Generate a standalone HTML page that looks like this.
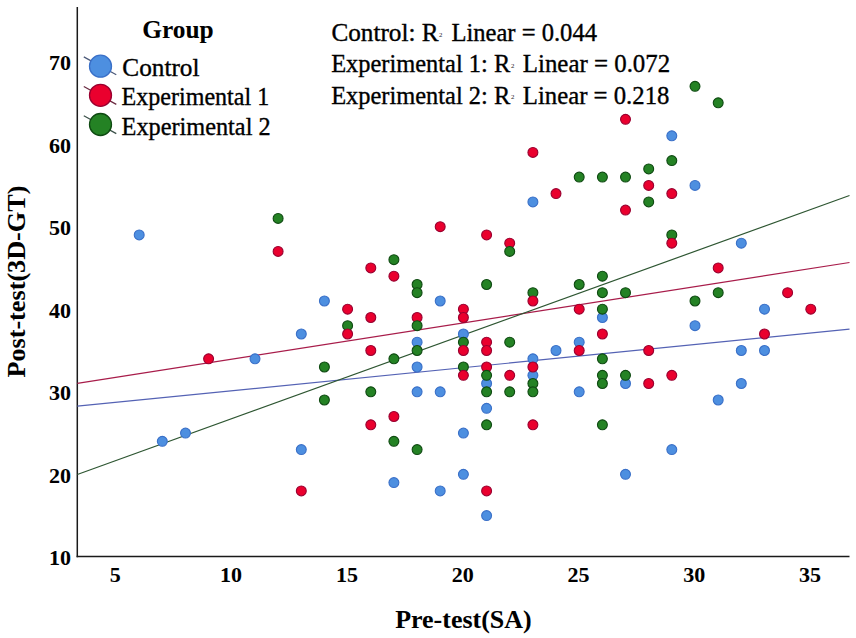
<!DOCTYPE html>
<html><head><meta charset="utf-8"><style>
html,body{margin:0;padding:0;background:#fff;width:856px;height:638px;overflow:hidden}
svg{display:block}
text{font-family:"Liberation Serif",serif;fill:#000;stroke:#000;stroke-width:0.35px}
text[font-weight="bold"],g[font-weight="bold"] text{stroke-width:0.05px}
.sup text{stroke-width:0;fill:#222}
</style></head><body>
<svg width="856" height="638" viewBox="0 0 856 638">
<rect x="0" y="0" width="856" height="638" fill="#fff"/>
<line x1="77.3" y1="7" x2="77.3" y2="557.2" stroke="#1a1a1a" stroke-width="1.5"/>
<line x1="76.6" y1="556.5" x2="849.5" y2="556.5" stroke="#1a1a1a" stroke-width="1.5"/>
<g id="ylab" font-weight="bold" font-size="22" text-anchor="end">
<text x="71" y="69.9">70</text>
<text x="71" y="152.5">60</text>
<text x="71" y="235.1">50</text>
<text x="71" y="317.6">40</text>
<text x="71" y="400.2">30</text>
<text x="71" y="482.7">20</text>
<text x="71" y="565.3">10</text>
</g>
<g id="xlab" font-weight="bold" font-size="22" text-anchor="middle">
<text x="115.3" y="582.2">5</text>
<text x="231.1" y="582.2">10</text>
<text x="346.9" y="582.2">15</text>
<text x="462.7" y="582.2">20</text>
<text x="578.5" y="582.2">25</text>
<text x="694.3" y="582.2">30</text>
<text x="810.1" y="582.2">35</text>
</g>
<text id="xt" x="395.20" y="628.00" font-size="24.6" font-weight="bold" textLength="136.40" lengthAdjust="spacingAndGlyphs">Pre-test(SA)</text>
<text id="yt" transform="translate(24.80,377.60) rotate(-90)" x="0" y="0" font-size="24.6" font-weight="bold" textLength="192.00" lengthAdjust="spacingAndGlyphs">Post-test(3D-GT)</text>
<g id="fits">
<line x1="77.3" y1="406.2" x2="849.5" y2="329.1" stroke="#5462b4" stroke-width="1.2"/>
<line x1="77.3" y1="383.3" x2="849.5" y2="262.5" stroke="#a81c4a" stroke-width="1.2"/>
<line x1="77.3" y1="474.5" x2="849.5" y2="195.5" stroke="#2e5632" stroke-width="1.2"/>
</g>
<g id="pts">
<circle cx="671.8" cy="135.8" r="4.95" fill="#4d8fe0" stroke="#3a70c8" stroke-width="1.1"/>
<circle cx="695.0" cy="185.4" r="4.95" fill="#4d8fe0" stroke="#3a70c8" stroke-width="1.1"/>
<circle cx="532.9" cy="201.9" r="4.95" fill="#4d8fe0" stroke="#3a70c8" stroke-width="1.1"/>
<circle cx="139.2" cy="234.9" r="4.95" fill="#4d8fe0" stroke="#3a70c8" stroke-width="1.1"/>
<circle cx="741.3" cy="243.2" r="4.95" fill="#4d8fe0" stroke="#3a70c8" stroke-width="1.1"/>
<circle cx="324.4" cy="301.0" r="4.95" fill="#4d8fe0" stroke="#3a70c8" stroke-width="1.1"/>
<circle cx="440.2" cy="301.0" r="4.95" fill="#4d8fe0" stroke="#3a70c8" stroke-width="1.1"/>
<circle cx="764.5" cy="309.2" r="4.95" fill="#4d8fe0" stroke="#3a70c8" stroke-width="1.1"/>
<circle cx="602.4" cy="317.5" r="4.95" fill="#4d8fe0" stroke="#3a70c8" stroke-width="1.1"/>
<circle cx="695.0" cy="325.7" r="4.95" fill="#4d8fe0" stroke="#3a70c8" stroke-width="1.1"/>
<circle cx="301.3" cy="334.0" r="4.95" fill="#4d8fe0" stroke="#3a70c8" stroke-width="1.1"/>
<circle cx="463.4" cy="334.0" r="4.95" fill="#4d8fe0" stroke="#3a70c8" stroke-width="1.1"/>
<circle cx="417.1" cy="342.2" r="4.95" fill="#4d8fe0" stroke="#3a70c8" stroke-width="1.1"/>
<circle cx="579.2" cy="342.2" r="4.95" fill="#4d8fe0" stroke="#3a70c8" stroke-width="1.1"/>
<circle cx="556.0" cy="350.5" r="4.95" fill="#4d8fe0" stroke="#3a70c8" stroke-width="1.1"/>
<circle cx="741.3" cy="350.5" r="4.95" fill="#4d8fe0" stroke="#3a70c8" stroke-width="1.1"/>
<circle cx="764.5" cy="350.5" r="4.95" fill="#4d8fe0" stroke="#3a70c8" stroke-width="1.1"/>
<circle cx="255.0" cy="358.8" r="4.95" fill="#4d8fe0" stroke="#3a70c8" stroke-width="1.1"/>
<circle cx="532.9" cy="358.8" r="4.95" fill="#4d8fe0" stroke="#3a70c8" stroke-width="1.1"/>
<circle cx="417.1" cy="367.0" r="4.95" fill="#4d8fe0" stroke="#3a70c8" stroke-width="1.1"/>
<circle cx="532.9" cy="375.3" r="4.95" fill="#4d8fe0" stroke="#3a70c8" stroke-width="1.1"/>
<circle cx="486.6" cy="383.5" r="4.95" fill="#4d8fe0" stroke="#3a70c8" stroke-width="1.1"/>
<circle cx="625.5" cy="383.5" r="4.95" fill="#4d8fe0" stroke="#3a70c8" stroke-width="1.1"/>
<circle cx="741.3" cy="383.5" r="4.95" fill="#4d8fe0" stroke="#3a70c8" stroke-width="1.1"/>
<circle cx="417.1" cy="391.8" r="4.95" fill="#4d8fe0" stroke="#3a70c8" stroke-width="1.1"/>
<circle cx="440.2" cy="391.8" r="4.95" fill="#4d8fe0" stroke="#3a70c8" stroke-width="1.1"/>
<circle cx="579.2" cy="391.8" r="4.95" fill="#4d8fe0" stroke="#3a70c8" stroke-width="1.1"/>
<circle cx="718.2" cy="400.0" r="4.95" fill="#4d8fe0" stroke="#3a70c8" stroke-width="1.1"/>
<circle cx="486.6" cy="408.3" r="4.95" fill="#4d8fe0" stroke="#3a70c8" stroke-width="1.1"/>
<circle cx="185.5" cy="433.1" r="4.95" fill="#4d8fe0" stroke="#3a70c8" stroke-width="1.1"/>
<circle cx="463.4" cy="433.1" r="4.95" fill="#4d8fe0" stroke="#3a70c8" stroke-width="1.1"/>
<circle cx="162.3" cy="441.3" r="4.95" fill="#4d8fe0" stroke="#3a70c8" stroke-width="1.1"/>
<circle cx="301.3" cy="449.6" r="4.95" fill="#4d8fe0" stroke="#3a70c8" stroke-width="1.1"/>
<circle cx="671.8" cy="449.6" r="4.95" fill="#4d8fe0" stroke="#3a70c8" stroke-width="1.1"/>
<circle cx="463.4" cy="474.3" r="4.95" fill="#4d8fe0" stroke="#3a70c8" stroke-width="1.1"/>
<circle cx="625.5" cy="474.3" r="4.95" fill="#4d8fe0" stroke="#3a70c8" stroke-width="1.1"/>
<circle cx="393.9" cy="482.6" r="4.95" fill="#4d8fe0" stroke="#3a70c8" stroke-width="1.1"/>
<circle cx="440.2" cy="490.9" r="4.95" fill="#4d8fe0" stroke="#3a70c8" stroke-width="1.1"/>
<circle cx="486.6" cy="515.6" r="4.95" fill="#4d8fe0" stroke="#3a70c8" stroke-width="1.1"/>
<circle cx="695.0" cy="86.3" r="4.95" fill="#248224" stroke="#0f4a12" stroke-width="1.1"/>
<circle cx="718.2" cy="102.8" r="4.95" fill="#248224" stroke="#0f4a12" stroke-width="1.1"/>
<circle cx="625.5" cy="119.3" r="4.95" fill="#ea002e" stroke="#9a0030" stroke-width="1.1"/>
<circle cx="532.9" cy="152.4" r="4.95" fill="#ea002e" stroke="#9a0030" stroke-width="1.1"/>
<circle cx="671.8" cy="160.6" r="4.95" fill="#248224" stroke="#0f4a12" stroke-width="1.1"/>
<circle cx="648.7" cy="168.9" r="4.95" fill="#248224" stroke="#0f4a12" stroke-width="1.1"/>
<circle cx="579.2" cy="177.1" r="4.95" fill="#248224" stroke="#0f4a12" stroke-width="1.1"/>
<circle cx="602.4" cy="177.1" r="4.95" fill="#248224" stroke="#0f4a12" stroke-width="1.1"/>
<circle cx="625.5" cy="177.1" r="4.95" fill="#248224" stroke="#0f4a12" stroke-width="1.1"/>
<circle cx="648.7" cy="185.4" r="4.95" fill="#ea002e" stroke="#9a0030" stroke-width="1.1"/>
<circle cx="556.0" cy="193.6" r="4.95" fill="#ea002e" stroke="#9a0030" stroke-width="1.1"/>
<circle cx="671.8" cy="193.6" r="4.95" fill="#ea002e" stroke="#9a0030" stroke-width="1.1"/>
<circle cx="648.7" cy="201.9" r="4.95" fill="#248224" stroke="#0f4a12" stroke-width="1.1"/>
<circle cx="625.5" cy="210.1" r="4.95" fill="#ea002e" stroke="#9a0030" stroke-width="1.1"/>
<circle cx="278.1" cy="218.4" r="4.95" fill="#248224" stroke="#0f4a12" stroke-width="1.1"/>
<circle cx="440.2" cy="226.7" r="4.95" fill="#ea002e" stroke="#9a0030" stroke-width="1.1"/>
<circle cx="486.6" cy="234.9" r="4.95" fill="#ea002e" stroke="#9a0030" stroke-width="1.1"/>
<circle cx="671.8" cy="234.9" r="4.95" fill="#248224" stroke="#0f4a12" stroke-width="1.1"/>
<circle cx="509.7" cy="243.2" r="4.95" fill="#ea002e" stroke="#9a0030" stroke-width="1.1"/>
<circle cx="671.8" cy="243.2" r="4.95" fill="#ea002e" stroke="#9a0030" stroke-width="1.1"/>
<circle cx="278.1" cy="251.4" r="4.95" fill="#ea002e" stroke="#9a0030" stroke-width="1.1"/>
<circle cx="509.7" cy="251.4" r="4.95" fill="#248224" stroke="#0f4a12" stroke-width="1.1"/>
<circle cx="393.9" cy="259.7" r="4.95" fill="#248224" stroke="#0f4a12" stroke-width="1.1"/>
<circle cx="370.8" cy="267.9" r="4.95" fill="#ea002e" stroke="#9a0030" stroke-width="1.1"/>
<circle cx="718.2" cy="267.9" r="4.95" fill="#ea002e" stroke="#9a0030" stroke-width="1.1"/>
<circle cx="393.9" cy="276.2" r="4.95" fill="#ea002e" stroke="#9a0030" stroke-width="1.1"/>
<circle cx="602.4" cy="276.2" r="4.95" fill="#248224" stroke="#0f4a12" stroke-width="1.1"/>
<circle cx="417.1" cy="284.5" r="4.95" fill="#248224" stroke="#0f4a12" stroke-width="1.1"/>
<circle cx="486.6" cy="284.5" r="4.95" fill="#248224" stroke="#0f4a12" stroke-width="1.1"/>
<circle cx="579.2" cy="284.5" r="4.95" fill="#248224" stroke="#0f4a12" stroke-width="1.1"/>
<circle cx="787.6" cy="292.7" r="4.95" fill="#ea002e" stroke="#9a0030" stroke-width="1.1"/>
<circle cx="417.1" cy="292.7" r="4.95" fill="#248224" stroke="#0f4a12" stroke-width="1.1"/>
<circle cx="532.9" cy="292.7" r="4.95" fill="#248224" stroke="#0f4a12" stroke-width="1.1"/>
<circle cx="602.4" cy="292.7" r="4.95" fill="#248224" stroke="#0f4a12" stroke-width="1.1"/>
<circle cx="625.5" cy="292.7" r="4.95" fill="#248224" stroke="#0f4a12" stroke-width="1.1"/>
<circle cx="718.2" cy="292.7" r="4.95" fill="#248224" stroke="#0f4a12" stroke-width="1.1"/>
<circle cx="532.9" cy="301.0" r="4.95" fill="#ea002e" stroke="#9a0030" stroke-width="1.1"/>
<circle cx="695.0" cy="301.0" r="4.95" fill="#248224" stroke="#0f4a12" stroke-width="1.1"/>
<circle cx="347.6" cy="309.2" r="4.95" fill="#ea002e" stroke="#9a0030" stroke-width="1.1"/>
<circle cx="579.2" cy="309.2" r="4.95" fill="#ea002e" stroke="#9a0030" stroke-width="1.1"/>
<circle cx="463.4" cy="309.2" r="4.95" fill="#ea002e" stroke="#9a0030" stroke-width="1.1"/>
<circle cx="810.8" cy="309.2" r="4.95" fill="#ea002e" stroke="#9a0030" stroke-width="1.1"/>
<circle cx="602.4" cy="309.2" r="4.95" fill="#248224" stroke="#0f4a12" stroke-width="1.1"/>
<circle cx="370.8" cy="317.5" r="4.95" fill="#ea002e" stroke="#9a0030" stroke-width="1.1"/>
<circle cx="417.1" cy="317.5" r="4.95" fill="#ea002e" stroke="#9a0030" stroke-width="1.1"/>
<circle cx="463.4" cy="317.5" r="4.95" fill="#ea002e" stroke="#9a0030" stroke-width="1.1"/>
<circle cx="347.6" cy="325.7" r="4.95" fill="#248224" stroke="#0f4a12" stroke-width="1.1"/>
<circle cx="417.1" cy="325.7" r="4.95" fill="#248224" stroke="#0f4a12" stroke-width="1.1"/>
<circle cx="347.6" cy="334.0" r="4.95" fill="#ea002e" stroke="#9a0030" stroke-width="1.1"/>
<circle cx="602.4" cy="334.0" r="4.95" fill="#ea002e" stroke="#9a0030" stroke-width="1.1"/>
<circle cx="764.5" cy="334.0" r="4.95" fill="#ea002e" stroke="#9a0030" stroke-width="1.1"/>
<circle cx="486.6" cy="342.2" r="4.95" fill="#ea002e" stroke="#9a0030" stroke-width="1.1"/>
<circle cx="463.4" cy="342.2" r="4.95" fill="#248224" stroke="#0f4a12" stroke-width="1.1"/>
<circle cx="509.7" cy="342.2" r="4.95" fill="#248224" stroke="#0f4a12" stroke-width="1.1"/>
<circle cx="370.8" cy="350.5" r="4.95" fill="#ea002e" stroke="#9a0030" stroke-width="1.1"/>
<circle cx="463.4" cy="350.5" r="4.95" fill="#ea002e" stroke="#9a0030" stroke-width="1.1"/>
<circle cx="486.6" cy="350.5" r="4.95" fill="#ea002e" stroke="#9a0030" stroke-width="1.1"/>
<circle cx="579.2" cy="350.5" r="4.95" fill="#ea002e" stroke="#9a0030" stroke-width="1.1"/>
<circle cx="648.7" cy="350.5" r="4.95" fill="#ea002e" stroke="#9a0030" stroke-width="1.1"/>
<circle cx="417.1" cy="350.5" r="4.95" fill="#248224" stroke="#0f4a12" stroke-width="1.1"/>
<circle cx="208.6" cy="358.8" r="4.95" fill="#ea002e" stroke="#9a0030" stroke-width="1.1"/>
<circle cx="393.9" cy="358.8" r="4.95" fill="#248224" stroke="#0f4a12" stroke-width="1.1"/>
<circle cx="602.4" cy="358.8" r="4.95" fill="#248224" stroke="#0f4a12" stroke-width="1.1"/>
<circle cx="486.6" cy="367.0" r="4.95" fill="#ea002e" stroke="#9a0030" stroke-width="1.1"/>
<circle cx="532.9" cy="367.0" r="4.95" fill="#ea002e" stroke="#9a0030" stroke-width="1.1"/>
<circle cx="324.4" cy="367.0" r="4.95" fill="#248224" stroke="#0f4a12" stroke-width="1.1"/>
<circle cx="463.4" cy="367.0" r="4.95" fill="#248224" stroke="#0f4a12" stroke-width="1.1"/>
<circle cx="463.4" cy="375.3" r="4.95" fill="#ea002e" stroke="#9a0030" stroke-width="1.1"/>
<circle cx="509.7" cy="375.3" r="4.95" fill="#ea002e" stroke="#9a0030" stroke-width="1.1"/>
<circle cx="671.8" cy="375.3" r="4.95" fill="#ea002e" stroke="#9a0030" stroke-width="1.1"/>
<circle cx="486.6" cy="375.3" r="4.95" fill="#248224" stroke="#0f4a12" stroke-width="1.1"/>
<circle cx="602.4" cy="375.3" r="4.95" fill="#248224" stroke="#0f4a12" stroke-width="1.1"/>
<circle cx="625.5" cy="375.3" r="4.95" fill="#248224" stroke="#0f4a12" stroke-width="1.1"/>
<circle cx="648.7" cy="383.5" r="4.95" fill="#ea002e" stroke="#9a0030" stroke-width="1.1"/>
<circle cx="532.9" cy="383.5" r="4.95" fill="#248224" stroke="#0f4a12" stroke-width="1.1"/>
<circle cx="602.4" cy="383.5" r="4.95" fill="#248224" stroke="#0f4a12" stroke-width="1.1"/>
<circle cx="370.8" cy="391.8" r="4.95" fill="#248224" stroke="#0f4a12" stroke-width="1.1"/>
<circle cx="486.6" cy="391.8" r="4.95" fill="#248224" stroke="#0f4a12" stroke-width="1.1"/>
<circle cx="509.7" cy="391.8" r="4.95" fill="#248224" stroke="#0f4a12" stroke-width="1.1"/>
<circle cx="532.9" cy="391.8" r="4.95" fill="#248224" stroke="#0f4a12" stroke-width="1.1"/>
<circle cx="324.4" cy="400.0" r="4.95" fill="#248224" stroke="#0f4a12" stroke-width="1.1"/>
<circle cx="393.9" cy="416.5" r="4.95" fill="#ea002e" stroke="#9a0030" stroke-width="1.1"/>
<circle cx="370.8" cy="424.8" r="4.95" fill="#ea002e" stroke="#9a0030" stroke-width="1.1"/>
<circle cx="532.9" cy="424.8" r="4.95" fill="#ea002e" stroke="#9a0030" stroke-width="1.1"/>
<circle cx="486.6" cy="424.8" r="4.95" fill="#248224" stroke="#0f4a12" stroke-width="1.1"/>
<circle cx="602.4" cy="424.8" r="4.95" fill="#248224" stroke="#0f4a12" stroke-width="1.1"/>
<circle cx="393.9" cy="441.3" r="4.95" fill="#248224" stroke="#0f4a12" stroke-width="1.1"/>
<circle cx="417.1" cy="449.6" r="4.95" fill="#248224" stroke="#0f4a12" stroke-width="1.1"/>
<circle cx="301.3" cy="490.9" r="4.95" fill="#ea002e" stroke="#9a0030" stroke-width="1.1"/>
<circle cx="486.6" cy="490.9" r="4.95" fill="#ea002e" stroke="#9a0030" stroke-width="1.1"/>
</g>
<text id="grp" x="142.20" y="38.00" font-size="24.5" font-weight="bold" textLength="71.40" lengthAdjust="spacingAndGlyphs">Group</text>
<g id="leg">
<line x1="83.8" y1="56.9" x2="116.3" y2="74.8" stroke="#4a5878" stroke-width="1.2"/>
<circle cx="100.5" cy="66.2" r="11" fill="#4d8fe0" stroke="#3a70c8" stroke-width="1.3"/>
<line x1="83.8" y1="86.5" x2="116.3" y2="104.4" stroke="#6a2a40" stroke-width="1.2"/>
<circle cx="100.5" cy="95.3" r="11" fill="#ea002e" stroke="#9a0030" stroke-width="1.3"/>
<line x1="83.8" y1="115.7" x2="116.3" y2="133.6" stroke="#3a5048" stroke-width="1.2"/>
<circle cx="100.5" cy="124.5" r="11" fill="#248224" stroke="#0f4a12" stroke-width="1.3"/>
</g>
<text id="l1" x="122.30" y="76.20" font-size="24.5" textLength="77.20" lengthAdjust="spacingAndGlyphs">Control</text>
<text id="l2" x="121.60" y="105.20" font-size="24.5" textLength="147.60" lengthAdjust="spacingAndGlyphs">Experimental 1</text>
<text id="l3" x="121.60" y="134.50" font-size="24.5" textLength="149.00" lengthAdjust="spacingAndGlyphs">Experimental 2</text>
<text id="t1a" x="331.40" y="40.90" font-size="24.5" textLength="107.20" lengthAdjust="spacingAndGlyphs">Control: R</text>
<text id="t1b" x="451.40" y="40.90" font-size="24.5" textLength="145.60" lengthAdjust="spacingAndGlyphs">Linear = 0.044</text>
<text id="t2a" x="331.20" y="72.40" font-size="24.5" textLength="179.00" lengthAdjust="spacingAndGlyphs">Experimental 1: R</text>
<text id="t2b" x="522.80" y="72.40" font-size="24.5" textLength="147.40" lengthAdjust="spacingAndGlyphs">Linear = 0.072</text>
<text id="t3a" x="331.20" y="103.60" font-size="24.5" textLength="179.00" lengthAdjust="spacingAndGlyphs">Experimental 2: R</text>
<text id="t3b" x="522.80" y="103.60" font-size="24.5" textLength="146.60" lengthAdjust="spacingAndGlyphs">Linear = 0.218</text>
<g id="sups" font-size="6.8" class="sup">
<text x="438.9" y="36.9">2</text>
<text x="511.1" y="68.3">2</text>
<text x="511.1" y="99.2">2</text>
</g>
</svg>
</body></html>
